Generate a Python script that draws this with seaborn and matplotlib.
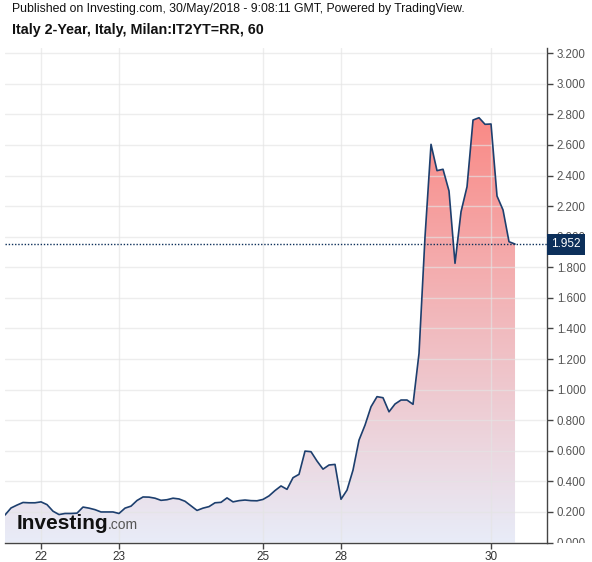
import numpy as np
import pandas as pd
import matplotlib
matplotlib.use("Agg")
import matplotlib.pyplot as plt
import seaborn as sns
from matplotlib.colors import LinearSegmentedColormap
from matplotlib.transforms import Bbox, blended_transform_factory

# ---- data (hourly closes, Italy 2Y yield) ----
yields = [0.180, 0.226, 0.245, 0.262, 0.260, 0.260, 0.266, 0.248, 0.205, 0.183,
          0.190, 0.190, 0.192, 0.232, 0.225, 0.215, 0.200, 0.200, 0.200, 0.190,
          0.225, 0.238, 0.275, 0.298, 0.297, 0.290, 0.276, 0.280, 0.290, 0.285,
          0.270, 0.240, 0.210, 0.225, 0.235, 0.260, 0.263, 0.292, 0.266, 0.274,
          0.278, 0.274, 0.273, 0.282, 0.305, 0.340, 0.370, 0.348, 0.424, 0.446,
          0.598, 0.594, 0.533, 0.480, 0.507, 0.511, 0.283, 0.343, 0.474, 0.670,
          0.768, 0.888, 0.954, 0.947, 0.855, 0.906, 0.932, 0.932, 0.904, 1.237,
          2.000, 2.604, 2.432, 2.441, 2.299, 1.826, 2.163, 2.327, 2.763, 2.778,
          2.735, 2.737, 2.266, 2.175, 1.967, 1.952]
day_labels = ["22", "23", "25", "28", "30"]
day_bars = [6, 19, 43, 56, 81]
last_value = 1.952
y_ticks = np.round(np.arange(0, 3.21, 0.2), 3)

title1 = "Published on Investing.com, 30/May/2018 - 9:08:11 GMT, Powered by TradingView."
title2 = "Italy 2-Year, Italy, Milan:IT2YT=RR, 60"

sns.set_theme(style="white")
plt.rcParams['font.family'] = ['Liberation Sans', 'DejaVu Sans']

df = pd.DataFrame({"bar": np.arange(len(yields)), "yield": yields})

W, H = 592, 562
fig = plt.figure(figsize=(W / 100, H / 100), dpi=100)
ax = fig.add_axes([5 / W, 19 / H, 542 / W, 495 / H])

navy = "#1D3F6E"

# gradient fill under the line
cmap = LinearSegmentedColormap.from_list("g", ["#E8ECF8", "#FA8A86"])
ymax = max(yields)
grad = np.linspace(0, 1, 256).reshape(-1, 1)
im = ax.imshow(grad, extent=[0, len(yields) - 1, 0, ymax], origin="lower",
               aspect="auto", cmap=cmap, zorder=1)
poly = ax.fill_between(df["bar"], df["yield"], 0, facecolor="none", edgecolor="none")
im.set_clip_path(poly.get_paths()[0], transform=ax.transData)

sns.lineplot(data=df, x="bar", y="yield", color=navy, lw=1.2, ax=ax, zorder=4)

ax.axhline(last_value, color="#0C2F5A", lw=1.0, linestyle=(0, (1, 1.3)), zorder=5)

ax.set_xlim(0, 90.33)
ax.set_ylim(-0.003, 3.234)

ax.set_xticks(day_bars)
ax.set_xticklabels(day_labels)
ax.set_yticks(y_ticks)
ax.set_yticklabels([f"{v:.3f}" for v in y_ticks])
ax.yaxis.tick_right()
ax.set_xlabel("")
ax.set_ylabel("")

ax.set_axisbelow(False)
ax.grid(True, color="#E4E4E4", lw=1, alpha=0.65)

for s in ["left", "top"]:
    ax.spines[s].set_visible(False)
for s in ["right", "bottom"]:
    ax.spines[s].set_visible(True)
    ax.spines[s].set_color("#444444")
    ax.spines[s].set_linewidth(1)

ax.tick_params(axis="y", which="both", right=True, left=False, length=4, width=1,
               color="#444444", labelsize=8.3, labelcolor="#555555", pad=3)
ax.tick_params(axis="x", which="both", bottom=True, length=4, width=1,
               color="#444444", labelsize=8.5, labelcolor="#333333", pad=2)

# clip y tick labels at the bottom spine (like the reference)
clipbox = Bbox.from_extents(0, 19, W, H)
for lab in ax.get_yticklabels():
    lab.set_clip_on(True)
    lab.set_clip_box(clipbox)

# last value marker
tr = blended_transform_factory(ax.transAxes, ax.transData)
ax.text(1.008, last_value, "1.952", transform=tr, ha="left", va="center",
        color="white", fontsize=8.5, zorder=10, clip_on=False,
        bbox=dict(boxstyle="square,pad=0.38", fc="#0C2F5A", ec="none"))

# titles
fig.text(12 / W, 1 - 9 / H, title1, ha="left", va="center", fontsize=8.8, color="#111111")
fig.text(12 / W, 1 - 30 / H, title2, ha="left", va="center", fontsize=10.3,
         fontweight="bold", color="#111111")

# watermark
ax.text(12 / 542, 0.028, "Investing", transform=ax.transAxes, ha="left", va="baseline",
        fontsize=15, fontweight="bold", color="#111111", zorder=6)
ax.text(103 / 542, 0.028, ".com", transform=ax.transAxes, ha="left", va="baseline",
        fontsize=10, color="#555555", zorder=6)

fig.savefig("out.png", dpi=100, facecolor="white")
